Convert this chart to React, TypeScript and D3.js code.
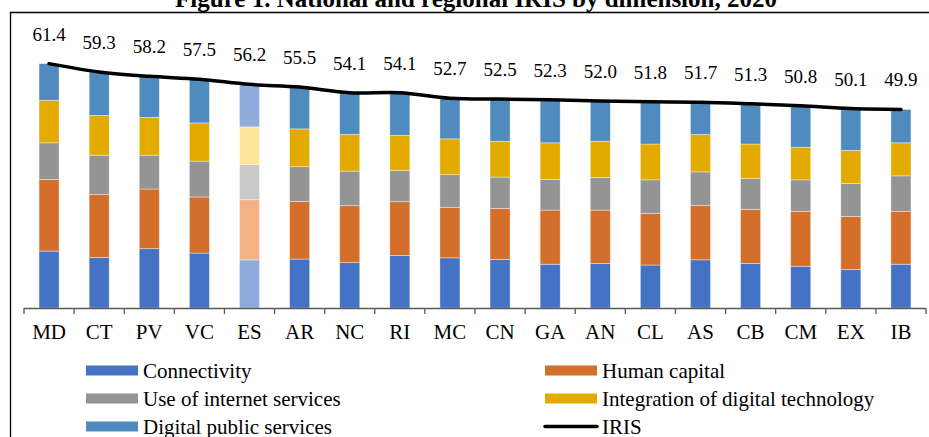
import React, { useEffect, useRef } from 'react'
import * as d3 from 'd3'

const regions = ['MD', 'CT', 'PV', 'VC', 'ES', 'AR', 'NC', 'RI', 'MC', 'CN', 'GA', 'AN', 'CL', 'AS', 'CB', 'CM', 'EX', 'IB']
const iris = [61.4, 59.3, 58.2, 57.5, 56.2, 55.5, 54.1, 54.1, 52.7, 52.5, 52.3, 52.0, 51.8, 51.7, 51.3, 50.8, 50.1, 49.9]

// dimension contributions
const connectivity = [14.3, 12.7, 14.9, 13.8, 12.1, 12.3, 11.4, 13.2, 12.6, 12.2, 11.0, 11.2, 10.8, 12.1, 11.2, 10.5, 9.7, 11.0]
const humanCapital = [18.0, 15.8, 15.0, 14.1, 15.1, 14.5, 14.3, 13.5, 12.7, 12.8, 13.6, 13.4, 13.0, 13.7, 13.6, 13.8, 13.3, 13.3]
const internetUse = [9.2, 9.9, 8.5, 9.0, 8.8, 8.7, 8.7, 7.9, 8.2, 7.9, 7.7, 8.2, 8.4, 8.4, 7.7, 7.9, 8.3, 8.9]
const digitalTech = [10.7, 10.0, 9.5, 9.6, 9.5, 9.5, 9.2, 8.8, 9.0, 9.0, 9.2, 9.1, 9.0, 9.4, 8.7, 8.2, 8.3, 8.3]
const publicServices = [9.2, 10.9, 10.3, 11.0, 10.7, 10.5, 10.5, 10.7, 10.2, 10.6, 10.8, 10.1, 10.6, 8.1, 10.1, 10.4, 10.5, 8.4]

const dimensions = ['Connectivity', 'Human capital', 'Use of internet services', 'Integration of digital technology', 'Digital public services']
const colors = ['#4472C4', '#D46F2B', '#949494', '#E3AB00', '#4F8BBF']
const lightColors = ['#8FAADC', '#F4B183', '#C9C9C9', '#FFE699', '#90ACDD']

function App() {
  const ref = useRef<SVGSVGElement>(null)

  useEffect(() => {
    const svg = d3.select(ref.current)
    svg.selectAll('*').remove()

    const font = '"Liberation Serif", "Times New Roman", serif'

    const x = d3.scaleBand().domain(regions).range([24, 926]).paddingInner(0.6).paddingOuter(0.3)
    const y = d3.scaleLinear().domain([0, 70]).range([308, 29.4])

    // frame + title
    svg.append('path')
      .attr('d', 'M10.5,437 L10.5,12.5 L929,12.5')
      .attr('fill', 'none').attr('stroke', '#000').attr('stroke-width', 1.3)

    svg.append('text')
      .attr('x', 476).attr('y', 7)
      .attr('text-anchor', 'middle')
      .attr('font-family', font).attr('font-weight', 'bold').attr('font-size', 25)
      .text('Figure 1. National and regional IRIS by dimension, 2020')

    // stacked bars
    const rows = regions.map((r, i) => ({
      region: r,
      d0: connectivity[i], d1: humanCapital[i], d2: internetUse[i], d3: digitalTech[i], d4: publicServices[i]
    }))
    const stack = d3.stack<any>().keys(['d0', 'd1', 'd2', 'd3', 'd4'])
    const series = stack(rows)

    svg.append('g').selectAll('g')
      .data(series).enter().append('g')
      .each(function (s, k) {
        d3.select(this).selectAll('rect')
          .data(s).enter().append('rect')
          .attr('x', (d: any) => x(d.data.region)!)
          .attr('width', x.bandwidth())
          .attr('y', (d: any) => y(d[1]))
          .attr('height', (d: any) => y(d[0]) - y(d[1]))
          .attr('fill', (d: any) => d.data.region === 'ES' ? lightColors[k] : colors[k])
          .attr('stroke', '#ffffff').attr('stroke-opacity', 0.55).attr('stroke-width', 0.7)
      })

    // x axis
    const axis = svg.append('g')
    axis.append('line')
      .attr('x1', 24).attr('x2', 926).attr('y1', 308.5).attr('y2', 308.5)
      .attr('stroke', '#595959').attr('stroke-width', 1.3)
    const step = x.step()
    axis.selectAll('line.tick')
      .data(d3.range(regions.length + 1)).enter().append('line')
      .attr('class', 'tick')
      .attr('x1', (i) => 24 + i * step).attr('x2', (i) => 24 + i * step)
      .attr('y1', 308).attr('y2', 314)
      .attr('stroke', '#595959').attr('stroke-width', 1.3)
    axis.selectAll('text')
      .data(regions).enter().append('text')
      .attr('x', (d) => x(d)! + x.bandwidth() / 2)
      .attr('y', 339)
      .attr('text-anchor', 'middle')
      .attr('font-family', font).attr('font-size', 21)
      .text((d) => d)

    // IRIS line
    const cx = (i: number) => x(regions[i])! + x.bandwidth() / 2
    const line = d3.line<number>()
      .x((d, i) => cx(i))
      .y((d) => y(d))
      .curve(d3.curveCatmullRom.alpha(0.5))
    svg.append('path')
      .datum(iris)
      .attr('d', line)
      .attr('fill', 'none').attr('stroke', '#000').attr('stroke-width', 3.5)
      .attr('stroke-linecap', 'round')

    svg.append('g').selectAll('text')
      .data(iris).enter().append('text')
      .attr('x', (d, i) => cx(i))
      .attr('y', (d) => y(d) - 23)
      .attr('text-anchor', 'middle')
      .attr('font-family', font).attr('font-size', 19)
      .text((d) => d.toFixed(1))

    // legend
    const legendItems = [
      { name: dimensions[0], color: colors[0], col: 0, row: 0 },
      { name: dimensions[1], color: colors[1], col: 1, row: 0 },
      { name: dimensions[2], color: colors[2], col: 0, row: 1 },
      { name: dimensions[3], color: colors[3], col: 1, row: 1 },
      { name: dimensions[4], color: colors[4], col: 0, row: 2 },
      { name: 'IRIS', color: '#000', col: 1, row: 2, isLine: true }
    ]
    const lg = svg.append('g')
    legendItems.forEach((it: any) => {
      const lx = it.col === 0 ? 86 : 545
      const ly = 370.5 + it.row * 28
      if (it.isLine) {
        lg.append('line')
          .attr('x1', lx).attr('x2', lx + 52).attr('y1', ly).attr('y2', ly)
          .attr('stroke', '#000').attr('stroke-width', 3.5).attr('stroke-linecap', 'round')
      } else {
        lg.append('rect')
          .attr('x', lx).attr('y', ly - 5).attr('width', 52).attr('height', 10)
          .attr('fill', it.color)
      }
      lg.append('text')
        .attr('x', lx + 57).attr('y', ly + 7)
        .attr('font-family', font).attr('font-size', 21)
        .text(it.name)
    })
  }, [])

  return (
    <svg ref={ref} width={929} height={437}
      style={{ position: 'absolute', left: 0, top: 0, background: '#fff' }} />
  )
}

export default App
